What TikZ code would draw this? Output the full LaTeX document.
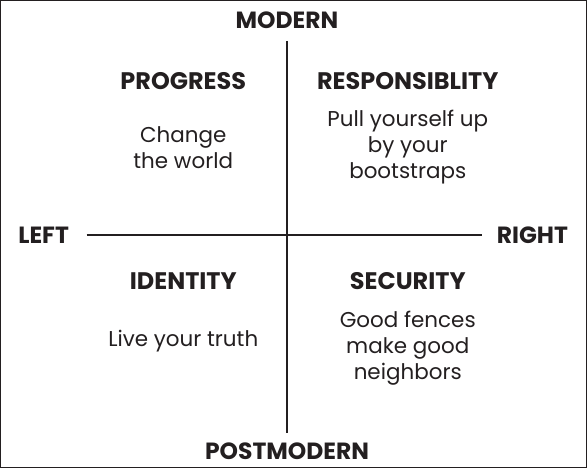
\documentclass[tikz,border=0pt]{standalone}
\usepackage{fontspec}
\setmainfont{Poppins}
\usetikzlibrary{positioning}
\definecolor{ink}{HTML}{231F20}

\begin{document}
\begin{tikzpicture}[x=1pt, y=-1pt, every node/.style={text=ink},
        axislabel/.style={font=\fontsize{23.5}{28}\selectfont\bfseries, inner sep=2pt},
        quadtitle/.style={font=\fontsize{24}{28}\selectfont\bfseries},
        quadtext/.style={font=\fontsize{21.5}{26}\selectfont, align=center},
        every path/.style={draw=ink, line width=1.4pt}]
        \useasboundingbox (0,0) rectangle (587,468);

        \node[axislabel] (modern) at (287,20) {MODERN};
        \node[axislabel] (postmodern) at (287,452) {POSTMODERN};
        \node[axislabel] (left) at (43,235) {LEFT};
        \node[axislabel] (right) at (533,235) {RIGHT};

        \node[quadtitle] (progress) at (183,81) {PROGRESS};
        \node[quadtitle] (responsibility) at (408,81) {RESPONSIBLITY};
        \node[quadtitle] (identity) at (183,281) {IDENTITY};
        \node[quadtitle] (security) at (408,281) {SECURITY};

        \node[quadtext] (world) at (183,147) {Change\\the world};
        \node[quadtext] (bootstraps) at (408,147) {Pull yourself up\\by your\\bootstraps};
        \node[quadtext] (truth) at (183,341) {Live your truth};
        \node[quadtext] (fences) at (408,348) {Good fences\\make good\\neighbors};

        \draw[shorten <=9pt, shorten >=8pt] (modern.south) to (postmodern.north);
        \draw[shorten <=15pt, shorten >=12pt] (left.east) to (right.west);

\end{tikzpicture}
\end{document}
